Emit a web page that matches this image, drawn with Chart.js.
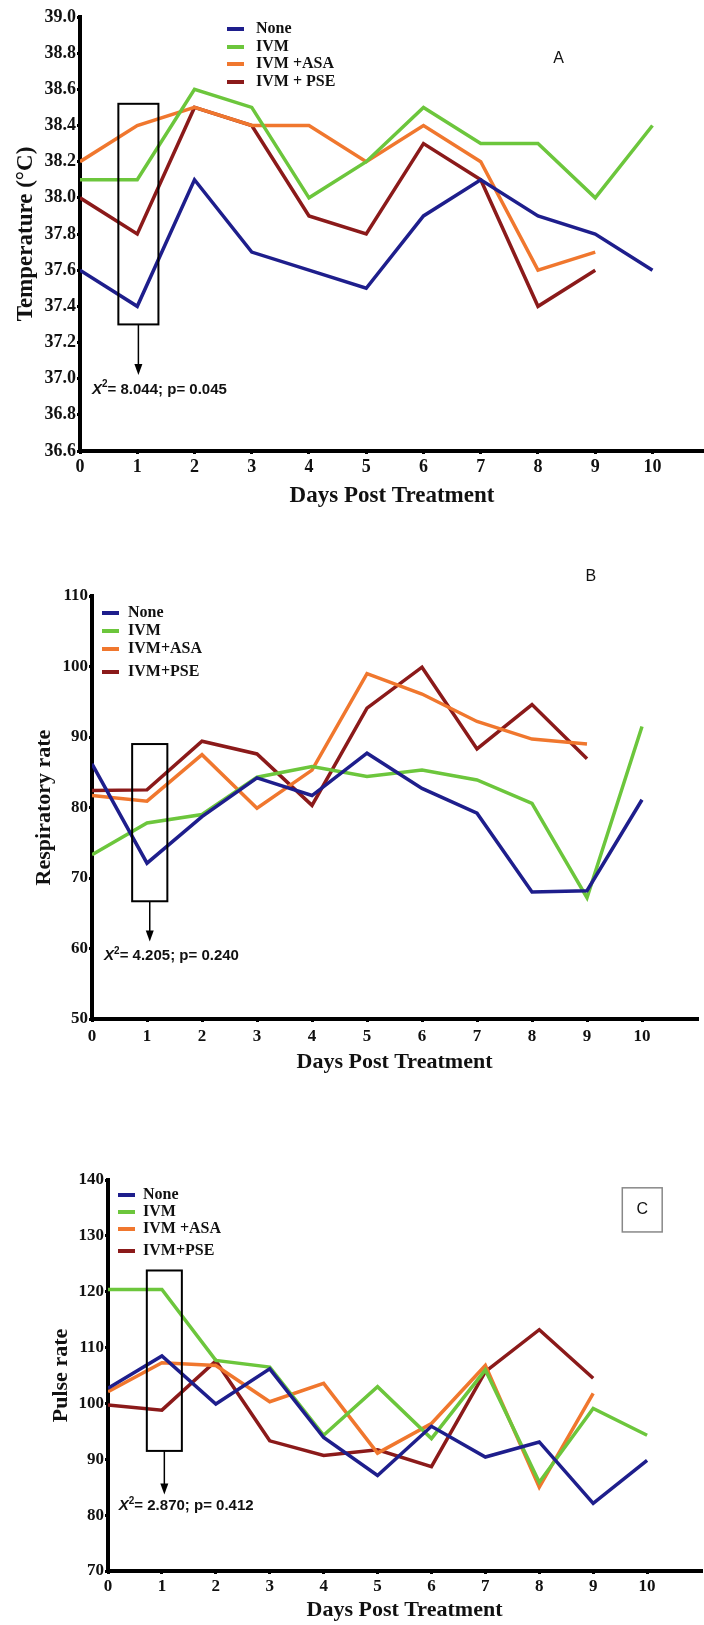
<!DOCTYPE html>
<html>
<head>
<meta charset="utf-8">
<script src="https://cdn.jsdelivr.net/npm/chart.js@4.4.1/dist/chart.umd.min.js"></script>
<style>
body { margin: 0; background: #fff; width: 704px; height: 1625px; position: relative; overflow: hidden; }
canvas { position: absolute; left: 0; }
</style>
</head>
<body>
<canvas id="chartA" width="704" height="520" style="top:0px"></canvas>
<canvas id="chartB" width="704" height="540" style="top:540px"></canvas>
<canvas id="chartC" width="704" height="525" style="top:1100px"></canvas>
<script>
// days on the x axis
let days = [0, 1, 2, 3, 4, 5, 6, 7, 8, 9, 10];
let seriesColors = ['#1e1e8c', '#6cc63c', '#f0772e', '#8b1a1a'];

// A - temperature
let tempTicks = [36.6, 36.8, 37.0, 37.2, 37.4, 37.6, 37.8, 38.0, 38.2, 38.4, 38.6, 38.8, 39.0];
let tempNone = [37.6, 37.4, 38.1, 37.7, 37.6, 37.5, 37.9, 38.1, 37.9, 37.8, 37.6];
let tempIVM  = [38.1, 38.1, 38.6, 38.5, 38.0, 38.2, 38.5, 38.3, 38.3, 38.0, 38.4];
let tempASA  = [38.2, 38.4, 38.5, 38.4, 38.4, 38.2, 38.4, 38.2, 37.6, 37.7];
let tempPSE  = [38.0, 37.8, 38.5, 38.4, 37.9, 37.8, 38.3, 38.1, 37.4, 37.6];

// B - respiratory rate
let respTicks = [50, 60, 70, 80, 90, 100, 110];
let respNone = [86.2, 72.1, 78.7, 84.2, 81.7, 87.7, 82.7, 79.2, 68.0, 68.2, 81.1];
let respIVM  = [73.3, 77.8, 79.0, 84.3, 85.8, 84.4, 85.3, 83.9, 80.6, 67.2, 91.5];
let respASA  = [81.7, 80.9, 87.5, 79.9, 85.3, 99.0, 96.1, 92.2, 89.7, 89.0];
let respPSE  = [82.4, 82.5, 89.4, 87.6, 80.3, 94.1, 99.9, 88.3, 94.6, 86.9];

// C - pulse rate
let pulseTicks = [70, 80, 90, 100, 110, 120, 130, 140];
let pulseNone = [102.7, 108.5, 99.9, 106.2, 93.9, 87.1, 95.9, 90.4, 93.1, 82.1, 89.8];
let pulseIVM  = [120.4, 120.4, 107.7, 106.5, 94.3, 103.0, 93.7, 106.0, 85.9, 99.1, 94.3];
let pulseASA  = [102.1, 107.3, 106.8, 100.3, 103.6, 91.1, 96.4, 106.8, 85.0, 101.8];
let pulsePSE  = [99.7, 98.8, 107.6, 93.3, 90.7, 91.7, 88.7, 105.7, 113.2, 104.5];

let serif = '"Liberation Serif", "Times New Roman", serif';

const overlay = {
    id: 'overlay',
    afterDraw(chart, args, o) {
        let ctx = chart.ctx;
        let x = chart.scales.x, y = chart.scales.y;
        ctx.save();
        // legend
        ctx.textBaseline = 'middle';
        ctx.textAlign = 'left';
        o.legend.labels.forEach((lab, i) => {
            let ly = o.legend.y[i];
            ctx.strokeStyle = seriesColors[i];
            ctx.lineWidth = 4;
            ctx.beginPath();
            ctx.moveTo(o.legend.x, ly);
            ctx.lineTo(o.legend.x + 17, ly);
            ctx.stroke();
            ctx.fillStyle = '#111';
            ctx.font = 'bold 16px ' + serif;
            ctx.fillText(lab, o.legend.x + o.legend.gap, ly);
        });
        // stat box + arrow
        let b = o.box;
        let bx0 = x.getPixelForValue(b[0]), bx1 = x.getPixelForValue(b[1]);
        let by0 = y.getPixelForValue(b[2]), by1 = y.getPixelForValue(b[3]);
        ctx.strokeStyle = '#000';
        ctx.lineWidth = 2;
        ctx.strokeRect(bx0, by0, bx1 - bx0, by1 - by0);
        let ax = (bx0 + bx1) / 2, ay = y.getPixelForValue(o.arrowTo);
        ctx.lineWidth = 1.5;
        ctx.beginPath();
        ctx.moveTo(ax, by1);
        ctx.lineTo(ax, ay - 10);
        ctx.stroke();
        ctx.fillStyle = '#000';
        ctx.beginPath();
        ctx.moveTo(ax - 4, ay - 11);
        ctx.lineTo(ax + 4, ay - 11);
        ctx.lineTo(ax, ay);
        ctx.closePath();
        ctx.fill();
        // chi-square text
        let tx = x.getPixelForValue(o.stat.at[0]), ty = y.getPixelForValue(o.stat.at[1]);
        ctx.fillStyle = '#111';
        ctx.font = 'italic bold 15px "Liberation Sans", Arial, sans-serif';
        ctx.fillText('X', tx, ty);
        let w = ctx.measureText('X').width;
        ctx.font = 'bold 10px "Liberation Sans", Arial, sans-serif';
        ctx.fillText('2', tx + w, ty - 5);
        w += ctx.measureText('2').width;
        ctx.font = 'bold 15px "Liberation Sans", Arial, sans-serif';
        ctx.fillText(o.stat.text, tx + w, ty);
        // panel letter
        let p = o.panel;
        ctx.font = '16px "Liberation Sans", Arial, sans-serif';
        ctx.textAlign = 'center';
        if (p.box) {
            let px0 = x.getPixelForValue(p.box[0]), px1 = x.getPixelForValue(p.box[1]);
            let py0 = y.getPixelForValue(p.box[2]), py1 = y.getPixelForValue(p.box[3]);
            ctx.strokeStyle = '#888';
            ctx.lineWidth = 1.5;
            ctx.strokeRect(px0, py0, px1 - px0, py1 - py0);
            ctx.fillText(p.text, (px0 + px1) / 2, (py0 + py1) / 2);
        } else {
            ctx.fillText(p.text, x.getPixelForValue(p.at[0]), y.getPixelForValue(p.at[1]));
        }
        ctx.restore();
    }
};

function makeChart(id, cfg) {
    let tickFont = {family: serif, size: cfg.tickSize, weight: 'bold'};
    let titleFont = {family: serif, size: cfg.titleSize, weight: 'bold'};
    return new Chart(document.getElementById(id), {
        type: 'line',
        data: {
            datasets: cfg.series.map((vals, i) => ({
                label: cfg.notes.legend.labels[i],
                data: vals.map((v, j) => ({x: days[j], y: v})),
                borderColor: seriesColors[i],
                borderWidth: 3.5,
                pointRadius: 0,
                tension: 0,
                fill: false
            }))
        },
        options: {
            responsive: false,
            animation: false,
            layout: {padding: {top: cfg.top, right: cfg.right, bottom: 0, left: 0}},
            plugins: {legend: {display: false}, tooltip: {enabled: false}, overlay: cfg.notes},
            scales: {
                x: {
                    type: 'linear', min: 0, max: cfg.xMax,
                    afterFit: s => { s.height = cfg.xHeight; },
                    afterBuildTicks: s => { s.ticks = days.map(d => ({value: d})); },
                    ticks: {font: tickFont, color: '#111', padding: cfg.xPad, maxRotation: 0},
                    grid: {drawOnChartArea: false, drawTicks: true, tickLength: 3, color: '#000', lineWidth: 3},
                    border: {color: '#000', width: 4},
                    title: {display: true, text: 'Days Post Treatment', font: titleFont, color: '#111',
                            padding: {top: 0, bottom: cfg.xTitlePad}}
                },
                y: {
                    type: 'linear', min: cfg.yTicks[0], max: cfg.yTicks[cfg.yTicks.length - 1],
                    afterFit: s => { s.width = cfg.left; },
                    afterBuildTicks: s => { s.ticks = cfg.yTicks.map(v => ({value: v})); },
                    ticks: {font: tickFont, color: '#111', padding: 1, callback: v => cfg.fmt(v)},
                    grid: {drawOnChartArea: false, drawTicks: true, tickLength: 3, color: '#000', lineWidth: 3},
                    border: {color: '#000', width: 4},
                    title: {display: true, text: cfg.yTitle, font: titleFont, color: '#111',
                            padding: {top: cfg.yTitlePad, bottom: 0}}
                }
            }
        },
        plugins: [overlay]
    });
}

makeChart('chartA', {
    series: [tempNone, tempIVM, tempASA, tempPSE],
    yTicks: tempTicks, fmt: v => v.toFixed(1), yTitle: 'Temperature (\u00B0C)',
    tickSize: 18, titleSize: 23,
    top: 17, right: 0, left: 80, xHeight: 69, xMax: 10.9, xPad: 3, xTitlePad: 10, yTitlePad: 12,
    notes: {
        legend: {labels: ['None', 'IVM', 'IVM +ASA', 'IVM + PSE'], x: 227, gap: 29, y: [29, 47, 64, 82]},
        box: [0.67, 1.37, 38.52, 37.30], arrowTo: 37.02,
        stat: {text: '= 8.044; p= 0.045', at: [0.21, 36.94]},
        panel: {text: 'A', at: [8.36, 38.77]}
    }
});

makeChart('chartB', {
    series: [respNone, respIVM, respASA, respPSE],
    yTicks: respTicks, fmt: v => String(v), yTitle: 'Respiratory rate',
    tickSize: 17, titleSize: 22,
    top: 56, right: 7, left: 92, xHeight: 61, xMax: 11, xPad: 4, xTitlePad: 4, yTitlePad: 31,
    notes: {
        legend: {labels: ['None', 'IVM', 'IVM+ASA', 'IVM+PSE'], x: 102, gap: 26, y: [73, 91, 109, 132]},
        box: [0.73, 1.37, 89.0, 66.7], arrowTo: 61.0,
        stat: {text: '= 4.205; p= 0.240', at: [0.22, 58.9]},
        panel: {text: 'B', at: [9.07, 112.7]}
    }
});

makeChart('chartC', {
    series: [pulseNone, pulseIVM, pulseASA, pulsePSE],
    yTicks: pulseTicks, fmt: v => String(v), yTitle: 'Pulse rate',
    tickSize: 17, titleSize: 22,
    top: 80, right: 3, left: 108, xHeight: 54, xMax: 11, xPad: 2, xTitlePad: 1, yTitlePad: 48,
    notes: {
        legend: {labels: ['None', 'IVM', 'IVM +ASA', 'IVM+PSE'], x: 118, gap: 25, y: [95, 112, 129, 151]},
        box: [0.72, 1.37, 123.8, 91.5], arrowTo: 83.7,
        stat: {text: '= 2.870; p= 0.412', at: [0.2, 81.6]},
        panel: {text: 'C', box: [9.54, 10.28, 138.6, 130.7]}
    }
});
</script>
</body>
</html>
